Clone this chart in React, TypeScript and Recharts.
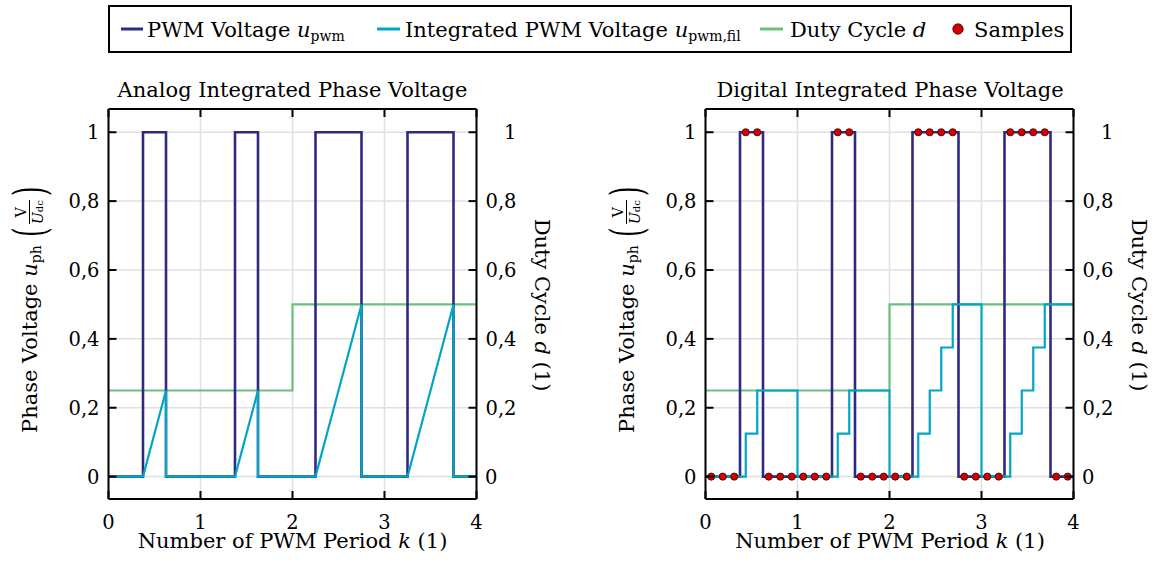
import React from 'react';
import { ComposedChart, Line, Scatter, XAxis, YAxis, CartesianGrid } from 'recharts';

// axis ticks
const periodTicks = [0, 1, 2, 3, 4];
const voltageTicks = [0, 0.2, 0.4, 0.6, 0.8, 1];

// PWM voltage (switching instants, stepAfter)
const pwmK = [0, 0.375, 0.625, 1.375, 1.625, 2.25, 2.75, 3.25, 3.75, 4];
const pwmU = [0, 1, 0, 1, 0, 1, 0, 1, 0, 0];

// duty cycle
const dutyK = [0, 2, 4];
const dutyD = [0.25, 0.5, 0.5];

// analog integrated voltage (ramps, reset on falling edge)
const analogK = [0, 0.375, 0.625, 0.625, 1.375, 1.625, 1.625, 2.25, 2.75, 2.75, 3.25, 3.75, 3.75, 4];
const analogU = [0, 0, 0.25, 0, 0, 0.25, 0, 0, 0.5, 0, 0, 0.5, 0, 0];

// digital integrated voltage (stairs, reset at period end)
const digitalK = [0, 0.4375, 0.5625, 1, 1.4375, 1.5625, 2, 2.3125, 2.4375, 2.5625, 2.6875, 3, 3.3125, 3.4375, 3.5625, 3.6875, 4];
const digitalU = [0, 0.125, 0.25, 0, 0.125, 0.25, 0, 0.125, 0.25, 0.375, 0.5, 0, 0.125, 0.25, 0.375, 0.5, 0.5];

// samples
const sampleK = [
  0.0625, 0.1875, 0.3125, 0.4375, 0.5625, 0.6875, 0.8125, 0.9375,
  1.0625, 1.1875, 1.3125, 1.4375, 1.5625, 1.6875, 1.8125, 1.9375,
  2.0625, 2.1875, 2.3125, 2.4375, 2.5625, 2.6875, 2.8125, 2.9375,
  3.0625, 3.1875, 3.3125, 3.4375, 3.5625, 3.6875, 3.8125, 3.9375,
];
const sampleU = [
  0, 0, 0, 1, 1, 0, 0, 0,
  0, 0, 0, 1, 1, 0, 0, 0,
  0, 0, 1, 1, 1, 1, 0, 0,
  0, 0, 1, 1, 1, 1, 0, 0,
];

const COLORS = {
  pwm: '#2e2a82',
  fil: '#00a6c4',
  duty: '#6cbf7c',
  sample: '#d00000',
};
const FONT = "'DejaVu Serif', serif";
const TXT = 21; // label font size
const TICK = 19.5; // tick label font size

const pts = (xs: number[], ys: number[]) => xs.map((k, i) => ({ k, v: ys[i] }));

const pwmData = pts(pwmK, pwmU);
const dutyData = pts(dutyK, dutyD);
const analogData = pts(analogK, analogU);
const digitalData = pts(digitalK, digitalU);
const sampleData = pts(sampleK, sampleU);

const fmt = (v: number) => (v === 0 ? '0' : v === 1 ? '1' : v.toFixed(1).replace('.', ','));

// ticks point inward, labels sit outside
const BottomTick = (p: any) => (
  <g>
    <line x1={p.x} y1={p.y} x2={p.x} y2={p.y - 8} stroke="#000" strokeWidth={2} />
    <text x={p.x} y={p.y + 30} textAnchor="middle" fontSize={TICK} fontFamily={FONT} fill="#000">
      {p.payload.value}
    </text>
  </g>
);
const TopTick = (p: any) => (
  <line x1={p.x} y1={p.y} x2={p.x} y2={p.y + 8} stroke="#000" strokeWidth={2} />
);
const LeftTick = (p: any) => (
  <g>
    <line x1={p.x} y1={p.y} x2={p.x + 8} y2={p.y} stroke="#000" strokeWidth={2} />
    <text x={p.x - 9} y={p.y + 7} textAnchor="end" fontSize={TICK} fontFamily={FONT} fill="#000">
      {fmt(p.payload.value)}
    </text>
  </g>
);
const RightTick = (p: any) => {
  const v = p.payload.value;
  return (
    <g>
      <line x1={p.x} y1={p.y} x2={p.x - 8} y2={p.y} stroke="#000" strokeWidth={2} />
      <text
        x={v === 0 ? p.x + 8.5 : p.x + 40}
        y={p.y + 7}
        textAnchor={v === 0 ? 'start' : 'end'}
        fontSize={TICK}
        fontFamily={FONT}
        fill="#000"
      >
        {fmt(v)}
      </text>
    </g>
  );
};

const axisLine = { stroke: '#000', strokeWidth: 2 };
const Y_DOMAIN: [number, number] = [-0.065, 1.0675];

function Panel({ filData, showSamples }: { filData: any[]; showSamples: boolean }) {
  return (
    <ComposedChart width={600} height={565} margin={{ top: 99, right: 63.5, bottom: 36, left: 48.5 }}>
      <CartesianGrid xAxisId="b" yAxisId="l" stroke="#e0e0e0" strokeWidth={1.5} />
      <XAxis
        xAxisId="b"
        dataKey="k"
        type="number"
        domain={[0, 4]}
        ticks={periodTicks}
        interval={0}
        allowDataOverflow
        height={30}
        tickSize={0}
        tickMargin={0}
        tickLine={false}
        axisLine={axisLine}
        tick={(p: any) => <BottomTick {...p} />}
      />
      <XAxis
        xAxisId="t"
        orientation="top"
        dataKey="k"
        type="number"
        domain={[0, 4]}
        ticks={periodTicks}
        interval={0}
        allowDataOverflow
        height={10}
        tickSize={0}
        tickMargin={0}
        tickLine={false}
        axisLine={axisLine}
        tick={(p: any) => <TopTick {...p} />}
      />
      <YAxis
        yAxisId="l"
        type="number"
        domain={Y_DOMAIN}
        ticks={voltageTicks}
        interval={0}
        allowDataOverflow
        width={60}
        tickSize={0}
        tickMargin={0}
        tickLine={false}
        axisLine={axisLine}
        tick={(p: any) => <LeftTick {...p} />}
      />
      <YAxis
        yAxisId="r"
        orientation="right"
        type="number"
        domain={Y_DOMAIN}
        ticks={voltageTicks}
        interval={0}
        allowDataOverflow
        width={60}
        tickSize={0}
        tickMargin={0}
        tickLine={false}
        axisLine={axisLine}
        tick={(p: any) => <RightTick {...p} />}
      />
      <Line
        xAxisId="b"
        yAxisId="l"
        data={dutyData}
        dataKey="v"
        type="stepAfter"
        stroke={COLORS.duty}
        strokeWidth={2.2}
        dot={false}
        isAnimationActive={false}
      />
      <Line
        xAxisId="b"
        yAxisId="l"
        data={pwmData}
        dataKey="v"
        type="stepAfter"
        stroke={COLORS.pwm}
        strokeWidth={2.6}
        dot={false}
        isAnimationActive={false}
      />
      <Line
        xAxisId="b"
        yAxisId="l"
        data={filData}
        dataKey="v"
        type={showSamples ? 'stepAfter' : 'linear'}
        stroke={COLORS.fil}
        strokeWidth={2.2}
        dot={false}
        isAnimationActive={false}
      />
      {showSamples && (
        <Scatter
          xAxisId="b"
          yAxisId="l"
          data={sampleData}
          dataKey="v"
          isAnimationActive={false}
          shape={(p: any) => (
            <circle cx={p.cx} cy={p.cy} r={3.6} fill={COLORS.sample} stroke="#3a0000" strokeWidth={0.8} />
          )}
        />
      )}
    </ComposedChart>
  );
}

const paren = {
  fontSize: 44,
  display: 'inline-block',
  lineHeight: '44px',
  transform: 'scaleX(0.55)',
  fontWeight: 300 as const,
};

function VoltageLabel({ cx, cy }: { cx: number; cy: number }) {
  return (
    <div
      style={{
        position: 'absolute',
        left: cx,
        top: cy,
        transform: 'translate(-50%, -50%) rotate(-90deg)',
        whiteSpace: 'nowrap',
        fontFamily: FONT,
        fontSize: TXT,
        display: 'flex',
        alignItems: 'center',
      }}
    >
      <span>
        Phase Voltage <i>u</i>
        <span style={{ fontSize: 14, position: 'relative', top: 4 }}>ph</span>
      </span>
      <span style={{ ...paren, marginLeft: 4 }}>(</span>
      <span
        style={{
          display: 'inline-flex',
          flexDirection: 'column',
          alignItems: 'center',
          fontSize: 14,
          lineHeight: '15px',
        }}
      >
        <span>V</span>
        <span style={{ borderTop: '1px solid #000', paddingTop: 1 }}>
          <i>U</i>
          <span style={{ fontSize: 10 }}>dc</span>
        </span>
      </span>
      <span style={paren}>)</span>
    </div>
  );
}

function DutyLabel({ cx, cy }: { cx: number; cy: number }) {
  return (
    <div
      style={{
        position: 'absolute',
        left: cx,
        top: cy,
        transform: 'translate(-50%, -50%) rotate(90deg)',
        whiteSpace: 'nowrap',
        fontFamily: FONT,
        fontSize: TXT,
      }}
    >
      Duty Cycle <i>d</i> (1)
    </div>
  );
}

export default function App() {
  return (
    <div
      style={{
        position: 'absolute',
        left: 0,
        top: 0,
        width: 1158,
        height: 565,
        overflow: 'hidden',
        background: '#fff',
      }}
    >
      <div style={{ position: 'absolute', left: 0, top: 0 }}>
        <Panel filData={analogData} showSamples={false} />
      </div>
      <div style={{ position: 'absolute', left: 597.2, top: 0 }}>
        <Panel filData={digitalData} showSamples={true} />
      </div>

      {/* legend box */}
      <div
        style={{
          position: 'absolute',
          left: 108,
          top: 5,
          width: 960,
          height: 44,
          border: '2px solid #000',
          background: '#fff',
        }}
      />
      <svg width={1158} height={565} style={{ position: 'absolute', left: 0, top: 0, pointerEvents: 'none' }}>
        <g fontFamily={FONT} fontSize={TXT} fill="#000">
          <line x1={121} x2={143} y1={29} y2={29} stroke={COLORS.pwm} strokeWidth={3} />
          <text x={147} y={37}>
            PWM Voltage <tspan fontStyle="italic">u</tspan>
            <tspan fontSize={14} dy={4}>pwm</tspan>
          </text>
          <line x1={377} x2={400} y1={29} y2={29} stroke={COLORS.fil} strokeWidth={3} />
          <text x={405} y={37}>
            Integrated PWM Voltage <tspan fontStyle="italic">u</tspan>
            <tspan fontSize={14} dy={4}>pwm,fil</tspan>
          </text>
          <line x1={760} x2={783} y1={29} y2={29} stroke={COLORS.duty} strokeWidth={3} />
          <text x={790} y={37}>
            Duty Cycle <tspan fontStyle="italic">d</tspan>
          </text>
          <circle cx={958} cy={29} r={5.2} fill={COLORS.sample} stroke="#3a0000" strokeWidth={0.8} />
          <text x={974} y={37}>Samples</text>

          <text x={292.5} y={97} textAnchor="middle">Analog Integrated Phase Voltage</text>
          <text x={890} y={97} textAnchor="middle">Digital Integrated Phase Voltage</text>

          <text x={292.5} y={548} textAnchor="middle">
            Number of PWM Period <tspan fontStyle="italic">k</tspan> (1)
          </text>
          <text x={890} y={548} textAnchor="middle">
            Number of PWM Period <tspan fontStyle="italic">k</tspan> (1)
          </text>
        </g>
      </svg>

      <VoltageLabel cx={30} cy={308} />
      <VoltageLabel cx={627} cy={308} />
      <DutyLabel cx={541.7} cy={305} />
      <DutyLabel cx={1139} cy={305} />
    </div>
  );
}
